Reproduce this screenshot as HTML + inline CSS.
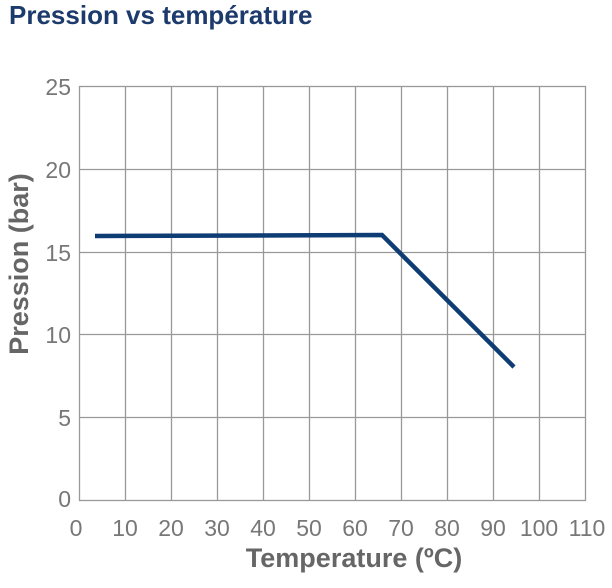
<!DOCTYPE html>
<html><head><meta charset="utf-8"><style>
body{margin:0;background:#fff;width:612px;height:583px;overflow:hidden}
</style></head><body>
<svg width="612" height="583" xmlns="http://www.w3.org/2000/svg" font-family="Liberation Sans, sans-serif">
<text x="9" y="24" font-size="26" font-weight="bold" fill="#1c3a6b">Pression vs température</text>
<g stroke="#999" stroke-width="1.3" fill="none">
<rect x="79.5" y="86.5" width="506" height="414"/>
<line x1="125.5" y1="86" x2="125.5" y2="500"/><line x1="171.5" y1="86" x2="171.5" y2="500"/>
<line x1="217.5" y1="86" x2="217.5" y2="500"/><line x1="263.5" y1="86" x2="263.5" y2="500"/>
<line x1="309.5" y1="86" x2="309.5" y2="500"/><line x1="355.5" y1="86" x2="355.5" y2="500"/>
<line x1="401.5" y1="86" x2="401.5" y2="500"/><line x1="447.5" y1="86" x2="447.5" y2="500"/>
<line x1="493.5" y1="86" x2="493.5" y2="500"/><line x1="539.5" y1="86" x2="539.5" y2="500"/>
<line x1="79" y1="169.5" x2="585" y2="169.5"/><line x1="79" y1="252.5" x2="585" y2="252.5"/>
<line x1="79" y1="334.5" x2="585" y2="334.5"/><line x1="79" y1="417.5" x2="585" y2="417.5"/>
</g>
<polyline points="95,236 382,235 514,367" fill="none" stroke="#0e3c74" stroke-width="4.5"/>
<g font-size="23" fill="#777" text-anchor="end">
<text x="71" y="95">25</text><text x="71" y="178">20</text><text x="71" y="261">15</text>
<text x="71" y="343">10</text><text x="71" y="426">5</text><text x="71" y="507">0</text>
</g>
<g font-size="23" fill="#777" text-anchor="middle">
<text x="76" y="536">0</text><text x="125" y="536">10</text><text x="171" y="536">20</text>
<text x="217" y="536">30</text><text x="263" y="536">40</text><text x="309" y="536">50</text>
<text x="355" y="536">60</text><text x="401" y="536">70</text><text x="447" y="536">80</text>
<text x="493" y="536">90</text><text x="539" y="536">100</text><text x="587" y="536">110</text>
</g>
<text x="354" y="567" font-size="27" font-weight="bold" fill="#666" text-anchor="middle">Temperature (ºC)</text>
<text transform="translate(28,264) rotate(-90)" font-size="27" font-weight="bold" fill="#666" text-anchor="middle">Pression (bar)</text>
</svg>
</body></html>
